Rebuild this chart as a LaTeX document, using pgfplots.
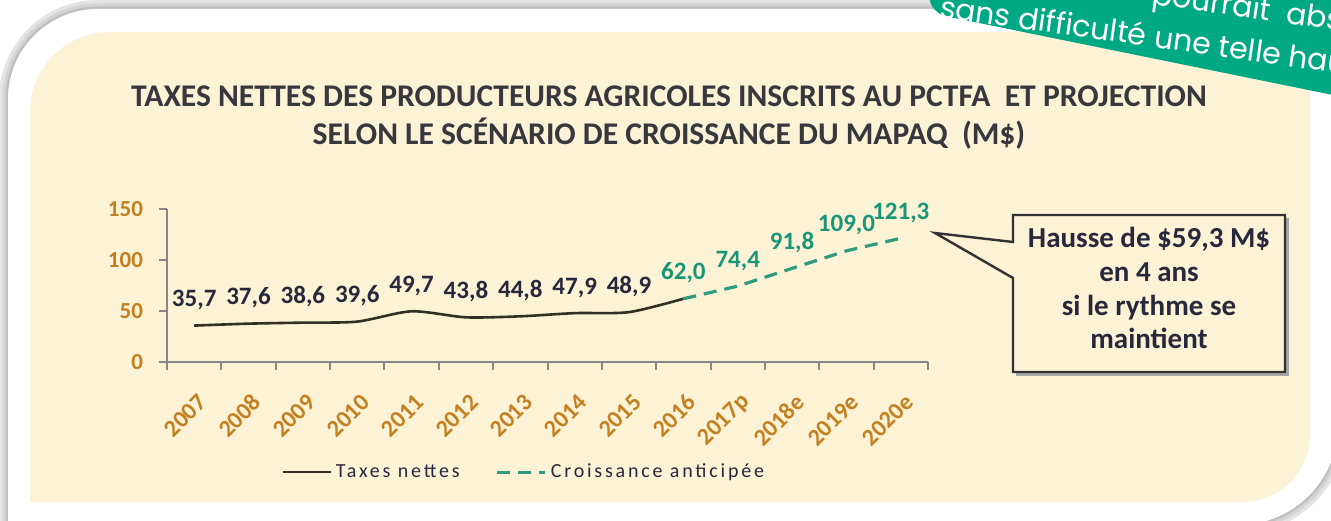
\documentclass[border=0pt]{standalone}
\usepackage{fontspec}
\setmainfont{Carlito}
\newfontfamily\popfont{Poppins}
\newfontfamily\legfont[LetterSpace=14]{Carlito}
\usepackage{pgfplots}
\pgfplotsset{compat=1.18}
\definecolor{beige}{RGB}{252,242,213}
\definecolor{bannerc}{RGB}{0,168,132}
\definecolor{titlec}{RGB}{55,55,62}
\definecolor{tickc}{RGB}{196,128,32}
\definecolor{axisgray}{RGB}{135,135,135}
\definecolor{lineblk}{RGB}{50,48,35}
\definecolor{dashteal}{RGB}{45,155,125}
\definecolor{labteal}{RGB}{25,150,120}
\definecolor{labdark}{RGB}{40,40,60}
\definecolor{boxc}{RGB}{50,50,50}
\definecolor{sh1}{RGB}{228,228,228}
\definecolor{sh2}{RGB}{212,212,212}
\definecolor{sh3}{RGB}{192,192,192}
\begin{document}
\begin{tikzpicture}[x=0.5pt,y=0.5pt]
\useasboundingbox (0,0) rectangle (1331,520);
\begin{scope}
\clip (0,0) rectangle (1331,520);
\fill[white] (0,0) rectangle (1331,520);
% card shadow
\draw[line width=9pt, sh1] (8,-5) -- (8,421) arc[start angle=180,end angle=90,radius=90] -- (1338,511) -- (1338,95) arc[start angle=0,end angle=-90,radius=100] -- cycle;
\draw[line width=5.5pt, sh2] (8,-5) -- (8,421) arc[start angle=180,end angle=90,radius=90] -- (1338,511) -- (1338,95) arc[start angle=0,end angle=-90,radius=100] -- cycle;
\draw[line width=2.5pt, sh3] (8,-5) -- (8,421) arc[start angle=180,end angle=90,radius=90] -- (1338,511) -- (1338,95) arc[start angle=0,end angle=-90,radius=100] -- cycle;
\fill[white] (8,-5) -- (8,421) arc[start angle=180,end angle=90,radius=90] -- (1338,511) -- (1338,95) arc[start angle=0,end angle=-90,radius=100] -- cycle;
% beige panel
\fill[beige] (30,18) -- (30,408) arc[start angle=180,end angle=90,radius=80] -- (1310,488) -- (1310,86) arc[start angle=0,end angle=-90,radius=68] -- cycle;
% title
\node[font=\bfseries\fontsize{15.8}{18}\selectfont, text=titlec, anchor=base, inner sep=0pt] at (669,413) {TAXES NETTES DES PRODUCTEURS AGRICOLES INSCRITS AU PCTFA \ ET PROJECTION};
\node[font=\bfseries\fontsize{15.8}{18}\selectfont, text=titlec, anchor=base, inner sep=0pt] at (669,375) {SELON LE SCÉNARIO DE CROISSANCE DU MAPAQ \ (M\$)};
\begin{axis}[
  at={(83.5pt,79pt)}, anchor=south west,
  scale only axis, width=380.5pt, height=76.5pt,
  xmin=0, xmax=14, ymin=0, ymax=150,
  axis lines=left, axis line style={-, draw=axisgray, line width=1pt},
  ytick={0,50,100,150},
  xtick={0.5,1.5,...,13.5},
  xticklabels={2007,2008,2009,2010,2011,2012,2013,2014,2015,2016,2017p,2018e,2019e,2020e},
  minor xtick={0,1,...,14},
  tick align=outside, major tick length=4pt, minor tick length=4pt,
  tick style={draw=axisgray, line width=1pt},
  major x tick style={draw=none},
  /pgf/number format/assume math mode=true,
  ticklabel style={font=\bfseries\fontsize{11.5}{13}\selectfont, text=tickc},
  yticklabel style={xshift=-4.5pt},
  xticklabel style={rotate=45, anchor=east, inner sep=1pt, yshift=-13pt, xshift=-6pt, font=\bfseries\fontsize{12}{13}\selectfont},
  clip=false,
  legend style={at={(0.47,-0.72)}, anchor=center, draw=none, fill=none,
    legend columns=2, font=\legfont\fontsize{10}{12}\selectfont, text=labdark,
    /tikz/every even column/.append style={column sep=16pt}},
  legend image code/.code={\draw[#1] (3pt,0pt) -- (27pt,0pt);},
]
\addplot[lineblk, line width=1.3pt, smooth, tension=0.45,
  nodes near coords, point meta=explicit symbolic,
  every node near coord/.append style={text=labdark, font=\bfseries\fontsize{12.5}{14}\selectfont, anchor=base, yshift=9.5pt}]
  coordinates {(0.5,35.7)[35,7] (1.5,37.6)[37,6] (2.5,38.6)[38,6] (3.5,39.6)[39,6] (4.5,49.7)[49,7] (5.5,43.8)[43,8] (6.5,44.8)[44,8] (7.5,47.9)[47,9] (8.5,48.9)[48,9] (9.5,62.0)[ ]};
\addlegendentry{Taxes nettes}
\addplot[dashteal, line width=1.6pt, dash pattern=on 6.5pt off 4pt,
  nodes near coords, point meta=explicit symbolic,
  every node near coord/.append style={text=labteal, font=\bfseries\fontsize{12.5}{14}\selectfont, anchor=base, yshift=9.5pt}]
  coordinates {(9.5,62.0)[62,0] (10.5,74.4)[74,4] (11.5,91.8)[91,8] (12.5,109.0)[109,0] (13.5,121.3)[121,3]};
\addlegendentry{Croissance anticipée}
\end{axis}
% callout
\fill[black!35] (1016,302) -- (1289,302) -- (1289,144) -- (1016,144) -- cycle;
\draw[fill=beige, draw=boxc, line width=1.2pt] (1013,305) -- (1285,305) -- (1285,148) -- (1013,148) -- (1013,242) -- (935,287) -- (1013,278) -- cycle;
\node[anchor=base, text=labdark, font=\bfseries\fontsize{14.5}{16}\selectfont, inner sep=0pt] at (1149,272) {Hausse de \$59,3 M\$};
\node[anchor=base, text=labdark, font=\bfseries\fontsize{14.5}{16}\selectfont, inner sep=0pt] at (1149,239) {en 4 ans};
\node[anchor=base, text=labdark, font=\bfseries\fontsize{14.5}{16}\selectfont, inner sep=0pt] at (1149,205) {si le rythme se};
\node[anchor=base, text=labdark, font=\bfseries\fontsize{14.5}{16}\selectfont, inner sep=0pt] at (1149,172) {maintient};
% banner
\begin{scope}
\clip[rotate around={-11.5:(925,508)}, rounded corners=11pt] (925,508) rectangle (1700,720);
\fill[bannerc] (880,300) rectangle (1400,600);
\node[rotate=-8, anchor=base west, text=white, inner sep=0pt, font=\popfont\fontsize{15}{18}\selectfont] at (1017,492) {\llap{sans }difficulté une telle hausse};
\node[rotate=-8, anchor=base west, text=white, inner sep=0pt, font=\popfont\fontsize{15}{18}\selectfont] at (1285,497) {\llap{pourrait\ \ }absorber};
\end{scope}
\end{scope}
\end{tikzpicture}
\end{document}
